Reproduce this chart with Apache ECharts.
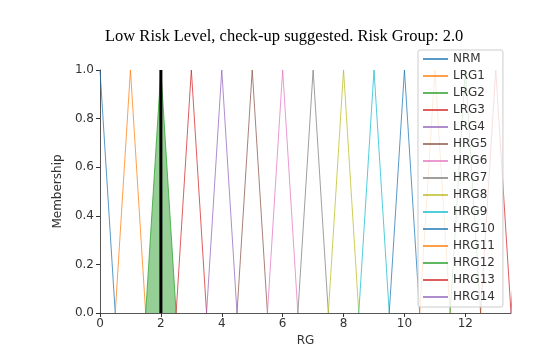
<!DOCTYPE html>
<html>
<head>
<meta charset="utf-8">
<script src="https://cdn.jsdelivr.net/npm/echarts@6/dist/echarts.min.js"></script>
<style>
  html, body { margin: 0; padding: 0; background: #fff; }
  #chart { width: 542px; height: 357px; }
</style>
</head>
<body>
<div id="chart"></div>
<script>
// membership function names and triangle corners [start, peak, end]
var names = ["NRM", "LRG1", "LRG2", "LRG3", "LRG4", "HRG5", "HRG6", "HRG7",
  "HRG8", "HRG9", "HRG10", "HRG11", "HRG12", "HRG13", "HRG14"];
var triangles = [
  [0, 0, 0.5], [0.5, 1, 1.5], [1.5, 2, 2.5], [2.5, 3, 3.5], [3.5, 4, 4.5],
  [4.5, 5, 5.5], [5.5, 6, 6.5], [6.5, 7, 7.5], [7.5, 8, 8.5], [8.5, 9, 9.5],
  [9.5, 10, 10.5], [10.5, 11, 11.5], [11.5, 12, 12.5], [12.5, 13, 13.5], [13.5, 14, 14.5]
];
var colors = ["#1f77b4", "#ff7f0e", "#2ca02c", "#d62728", "#9467bd", "#8c564b",
  "#e377c2", "#7f7f7f", "#bcbd22", "#17becf"];
// activated area and defuzzified result
var activated = [[1.5, 0], [2, 1], [2.5, 0]];
var result = 2.0;
var xTicks = [0, 2, 4, 6, 8, 10, 12];

var chart = echarts.init(document.getElementById("chart"));

var series = [];
// filled activation
series.push({
  type: "line",
  data: activated,
  symbol: "none",
  silent: true,
  lineStyle: { width: 0 },
  areaStyle: { color: "#2ca02c", opacity: 0.5 },
  z: 1
});
names.forEach(function (n, i) {
  var t = triangles[i];
  series.push({
    name: n,
    type: "line",
    data: [[t[0], i === 0 ? 1 : 0], [t[1], 1], [t[2], 0]],
    symbol: "none",
    color: colors[i % 10],
    lineStyle: { width: 1, opacity: 0.75 },
    z: 2
  });
});
// defuzzified value
series.push({
  type: "line",
  data: [[result, 0], [result, 1]],
  symbol: "none",
  color: "#000",
  lineStyle: { width: 3 },
  z: 3
});

chart.setOption({
  animation: false,
  title: {
    text: "Low Risk Level, check-up suggested. Risk Group: " + result.toFixed(1),
    left: 100,
    top: 23,
    textStyle: { fontFamily: "Liberation Serif", fontSize: 16.5, fontWeight: "normal", color: "#000" }
  },
  legend: {
    data: names,
    orient: "vertical",
    left: 418,
    top: 50,
    width: 92,
    padding: [3, 8, 4, 5],
    itemGap: 5,
    itemWidth: 25,
    itemHeight: 1.5,
    icon: "rect",
    backgroundColor: "rgba(255,255,255,0.8)",
    borderColor: "#ccc",
    borderWidth: 1,
    borderRadius: 2,
    textStyle: { fontFamily: "DejaVu Sans", fontSize: 12, lineHeight: 12, color: "#333" }
  },
  grid: { left: 100, top: 70, width: 411, height: 243 },
  xAxis: {
    type: "value",
    min: 0,
    max: 13.5,
    name: "RG",
    nameLocation: "middle",
    nameGap: 22,
    nameTextStyle: { fontFamily: "DejaVu Sans", fontSize: 12, color: "#333" },
    axisLine: { lineStyle: { color: "#555", width: 1 } },
    axisTick: { length: 4, customValues: xTicks, lineStyle: { color: "#333" } },
    axisLabel: { customValues: xTicks, margin: 5, fontFamily: "DejaVu Sans", fontSize: 12, color: "#333" },
    splitLine: { show: false }
  },
  yAxis: {
    type: "value",
    min: 0,
    max: 1,
    interval: 0.2,
    name: "Membership",
    nameLocation: "middle",
    nameGap: 36,
    nameTextStyle: { fontFamily: "DejaVu Sans", fontSize: 12, color: "#333" },
    axisLine: { show: true, lineStyle: { color: "#555", width: 1 } },
    axisTick: { show: true, length: 4, lineStyle: { color: "#333" } },
    axisLabel: {
      margin: 6, fontFamily: "DejaVu Sans", fontSize: 12, color: "#333",
      formatter: function (v) { return v.toFixed(1); }
    },
    splitLine: { show: false }
  },
  series: series
});
</script>
</body>
</html>
